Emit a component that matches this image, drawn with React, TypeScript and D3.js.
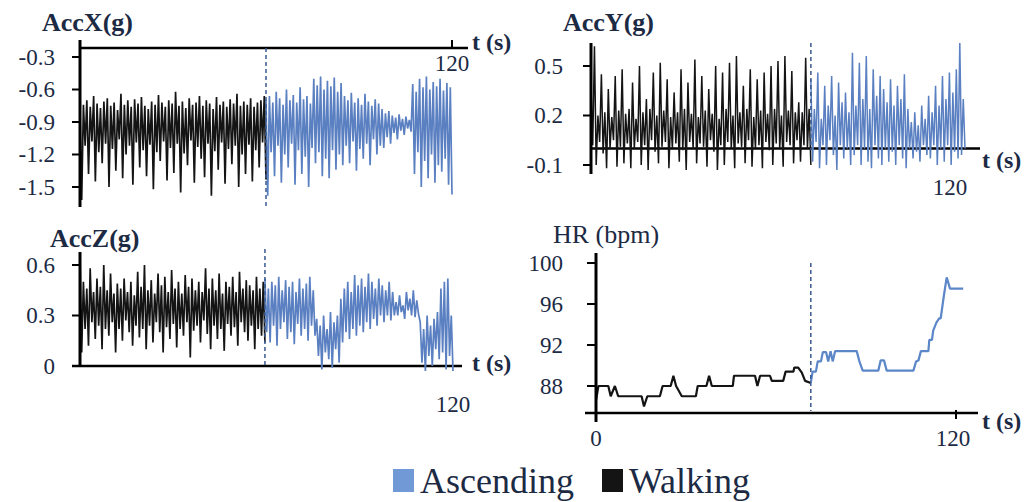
import * as d3 from "d3";

const WALK = "#141414";
const ASC = "#5b80c2";
const ASC_KEY = "#7199d6";
const TEXT = "#1c2a44";
const DASH = "#3a5a90";
const FONT = "'Liberation Serif', 'DejaVu Serif', serif";

// Acceleration samples are in hundredths of g.

// ---- AccX: walking 0-60 s, ascending 60-120 s
const accXTicks = [-0.3, -0.6, -0.9, -1.2, -1.5];
const accXWalk = [
  -78, -162, -74, -112, -70, -138, -76, -108, -66, -145, -73, -118, -77, -128, -71, -110, -68, -150, -75, -115,
  -72, -135, -79, -106, -64, -142, -74, -120, -70, -112, -76, -148, -69, -109, -73, -132, -67, -116, -75, -140,
  -78, -111, -71, -152, -74, -118, -65, -126, -72, -108, -76, -144, -70, -114, -73, -137, -62, -110, -75, -155,
  -71, -119, -77, -130, -68, -107, -74, -146, -72, -113, -66, -124, -75, -141, -70, -110, -73, -158, -78, -117,
  -67, -134, -74, -109, -71, -147, -76, -115, -69, -129, -73, -112, -64, -150, -75, -120, -71, -138, -74, -111,
  -68, -145, -76, -116, -72, -132, -70, -109, -66, -143,
];
const accXAsc = [
  -70, -158, -66, -118, -72, -140, -62, -112, -68, -146, -74, -120, -60, -132, -70, -110, -65, -148, -72, -116,
  -58, -138, -69, -122, -66, -150, -73, -114,
  -50, -128, -56, -118, -48, -140, -60, -124, -52, -142, -57, -116, -49, -134, -62, -120, -54, -130,
  -66, -112, -70, -128, -63, -108, -72, -135, -68, -115, -74, -124, -64, -110, -71, -130, -75, -106, -69, -120,
  -73, -112,
  -78, -114, -82, -104, -80, -110, -84, -100, -86, -106, -83, -98, -87, -102, -85, -96, -88, -99,
  -55, -138, -62, -118, -50, -150, -58, -126, -48, -142, -60, -120, -53, -146, -57, -130, -50, -136, -61, -124,
  -54, -148, -58, -157,
];

// ---- AccY: walking 0-72.9 s, ascending 72.9-124 s
const accYTicks = [0.5, 0.2, -0.1];
const accYWalk = [
  38, 2, 62, -10, 20, 4, 45, -3, 22, -12, 36, 0, 19, 5, 44, -11, 23, 1, 48, -9,
  21, 3, 24, -12, 40, 0, 18, 4, 50, -10, 22, 2, 30, -13, 24, 5, 46, -2, 20, -9,
  52, 1, 23, 4, 42, -12, 19, 0, 34, 3, 22, -8, 48, -1, 24, -13, 40, 4, 21, 0,
  54, -9, 19, 3, 44, 1, 23, -11, 36, 5, 21, -2, 50, -13, 18, 2, 46, -10, 24, 4,
  52, 0, 20, -12, 56, 3, 22, 1, 38, -9, 24, 5, 48, -11, 19, 0, 42, 2, 23, -12,
  46, 4, 21, -1, 50, -10, 24, 3, 53, 0, 20, -11, 56, 4, 23, 2, 47, -9, 22, 5,
  28, -8, 22, 2, 55, 0, 24, -10,
];
const accYAsc = [
  42, -8, 24, 4, 46, -12, 18, 2, 38, -10, 26, 5, 44, -4, 20, -13, 40, 2, 28, -6, 34, 0, 22, -10,
  58, -4, 26, 2, 52, -10, 30, 0, 56, -8, 24, -12, 48, 2, 32, -6, 44, -10,
  36, 0, 28, -8, 42, -2, 26, -10, 38, 2, 30, -6, 45, -12,
  24, 0, 16, -6, 22, -2, 14, -8, 26, 2, 18, -4,
  32, -6, 22, 2, 38, -10, 26, 0, 44, -8, 30, 2, 46, -10, 34, -2, 48, -6, 64, -4, 30, 0,
];

// ---- AccZ: walking 0-59.5 s, ascending 59.5-120 s
const accZTicks = [0.6, 0.3, 0];
const accZWalk = [
  65, 8, 50, 22, 46, 12, 58, 26, 44, 16, 52, 24, 47, 10, 60, 22, 45, 18, 55, 26,
  43, 8, 49, 22, 46, 15, 52, 27, 44, 20, 50, 12, 42, 24, 56, 17, 47, 22, 60, 10,
  45, 24, 51, 14, 43, 26, 55, 20, 48, 8, 53, 23, 44, 16, 57, 25, 46, 11, 50, 22,
  43, 18, 54, 26, 47, 5, 52, 21, 45, 24, 50, 14, 44, 27, 58, 19, 46, 10, 52, 24,
  45, 16, 55, 22, 43, 9, 50, 25, 47, 18, 53, 23, 44, 12, 56, 26, 46, 20, 51, 15,
  48, 24, 45, 10, 53, 22, 46, 18, 50, 14,
];
const accZAsc = [
  52, 20, 46, 14, 50, 24, 48, 12, 53, 22, 45, 26, 51, 16, 47, 20, 50, 13, 44, 25,
  52, 18, 46, 22, 49, 15, 53, 24, 45, 18,
  28, 6, 24, -2, 30, 8, 22, 4, 32, -1, 26, 10, 30, 2,
  40, 14, 46, 20, 50, 16, 44, 22, 54, 18, 48, 24, 52, 20, 47, 26, 55, 22, 50, 28,
  46, 24, 52, 30, 48, 26, 45, 30, 50, 27, 44, 30,
  38, 30, 42, 32, 36, 28, 44, 33, 40, 30, 45, 29, 39, 31,
  26, 2, 22, -3, 30, 6, 24, 0, 28, 10, 32, 4, 46, 8, 50, -2, 52, 6, 30, -3,
];

// ---- HR (bpm)
const hrTicks = [100, 96, 92, 88];
const hrWalkT = [0, 0.8, 4.1, 4.9, 6.3, 7.4, 15.2, 16, 17.1, 21.3, 22.2, 24.9, 25.8, 26.7, 28.6, 33.3, 33.9, 36.8, 37.7, 38.6, 45.6, 46, 53, 53.8, 54.7, 58, 58.6, 62.4, 63.2, 65.8, 66.1, 67.4, 68.6, 69.7, 71.6];
const hrWalkV = [86.6, 88, 88, 87, 88, 87, 87, 86, 87, 87, 88, 88, 89, 88, 87, 87, 88, 88, 89, 88, 88, 89, 89, 88, 89, 89, 88.5, 88.5, 89.4, 89.4, 89.8, 89.8, 89.3, 88.5, 88.3];
const hrAscT = [71.6, 72.2, 73.3, 73.9, 75, 75.6, 76.7, 77.4, 78.2, 78.9, 79.7, 86.9, 87.8, 88.9, 94.1, 94.9, 96, 96.9, 105.8, 106.7, 107.5, 108.3, 110.8, 111.1, 112, 112.4, 113.5, 114.4, 114.9, 116, 116.9, 118, 122.4];
const hrAscV = [88.3, 89.4, 89.4, 90.4, 90.4, 91.3, 91.3, 90.4, 91.4, 90.4, 91.4, 91.4, 90.4, 89.5, 89.5, 90.5, 90.5, 89.5, 89.5, 90.4, 90.5, 91.4, 91.4, 92.5, 92.5, 93.4, 94.2, 94.6, 94.6, 96.9, 98.6, 97.5, 97.5];

const legendItems = [
  { label: "Ascending", color: ASC_KEY },
  { label: "Walking", color: WALK },
];

type Pt = [number, number];

// spread a sample list (hundredths) evenly over [t0, t1]
function samples(vals: number[], t0: number, t1: number): Pt[] {
  const idx = d3.scaleLinear().domain([0, vals.length - 1]).range([t0, t1]);
  return vals.map((v, i) => [idx(i), v / 100]);
}
const pairs = (ts: number[], vs: number[]): Pt[] => ts.map((t, i) => [t, vs[i]]);

type Panel = {
  title: string;
  bold: boolean;
  titleX: number;
  titleY: number;
  ticks: number[];
  fmt: (v: number) => string;
  yDomain: [number, number];
  yRange: [number, number];
  tDomain: [number, number];
  xRange: [number, number];
  axisAt: number;
  yAxisPx: [number, number];
  xAxisPx: [number, number];
  tickLen: number;
  labelGap: number;
  t120: "up" | "down" | "none";
  lab120Y: number;
  lab120Dx: number;
  zeroLabel?: boolean;
  tsX: number;
  tsY: number;
  dashPx: [number, number];
  split: number;
  walk: Pt[];
  asc: Pt[];
  lineW: number;
  ascColor: string;
};

function PanelView({ p }: { p: Panel }) {
  const x = d3.scaleLinear().domain(p.tDomain).range(p.xRange);
  const y = d3.scaleLinear().domain(p.yDomain).range(p.yRange);
  const line = d3
    .line<Pt>()
    .x((d) => x(d[0]))
    .y((d) => y(d[1]));
  const x0 = x(0);
  const y0 = y(p.axisAt);
  const x120 = x(120);
  return (
    <g>
      <line x1={p.xAxisPx[0]} x2={p.xAxisPx[1]} y1={y0} y2={y0} stroke="#000" strokeWidth={2.5} />
      <path d={line(p.asc) ?? ""} fill="none" stroke={p.ascColor} strokeWidth={p.lineW} strokeLinejoin="bevel" />
      <path d={line(p.walk) ?? ""} fill="none" stroke={WALK} strokeWidth={p.lineW} strokeLinejoin="bevel" />
      <line
        x1={x(p.split)}
        x2={x(p.split)}
        y1={p.dashPx[0]}
        y2={p.dashPx[1]}
        stroke={DASH}
        strokeWidth={1.5}
        strokeDasharray="4,3"
      />
      <line x1={x0} x2={x0} y1={p.yAxisPx[0]} y2={p.yAxisPx[1]} stroke="#000" strokeWidth={3} />
      {p.ticks.map((v) => (
        <g key={v}>
          <line x1={x0 - p.tickLen} x2={x0} y1={y(v)} y2={y(v)} stroke="#000" strokeWidth={2} />
          <text
            x={x0 - p.labelGap}
            y={y(v)}
            dy="0.34em"
            textAnchor="end"
            fontSize={23}
            fill={TEXT}
            fontFamily={FONT}
          >
            {p.fmt(v)}
          </text>
        </g>
      ))}
      {p.t120 !== "none" && (
        <line
          x1={x120}
          x2={x120}
          y1={p.t120 === "up" ? y0 - 8 : y0 - 3}
          y2={p.t120 === "up" ? y0 : y0 + 6}
          stroke="#000"
          strokeWidth={2}
        />
      )}
      <text x={x120 + p.lab120Dx} y={p.lab120Y} textAnchor="middle" fontSize={23} fill={TEXT} fontFamily={FONT}>
        120
      </text>
      {p.zeroLabel && (
        <text x={x0} y={p.lab120Y} textAnchor="middle" fontSize={23} fill={TEXT} fontFamily={FONT}>
          0
        </text>
      )}
      <text x={p.tsX} y={p.tsY} fontSize={24} fontWeight="bold" fill={TEXT} fontFamily={FONT}>
        t (s)
      </text>
      <text
        x={p.titleX}
        y={p.titleY}
        fontSize={26}
        fontWeight={p.bold ? "bold" : "normal"}
        fill={TEXT}
        fontFamily={FONT}
      >
        {p.title}
      </text>
    </g>
  );
}

const fmt1 = (v: number) => (v === 0 ? "0" : v.toFixed(1));

export default function App() {
  const panels: Panel[] = [
    {
      title: "AccX(g)", bold: true, titleX: 42, titleY: 31,
      ticks: accXTicks, fmt: fmt1,
      yDomain: [-1.5, -0.3], yRange: [187, 57],
      tDomain: [0, 120], xRange: [80, 452],
      axisAt: -0.217, yAxisPx: [40, 207], xAxisPx: [80, 468],
      tickLen: 8, labelGap: 25, t120: "up", lab120Y: 71, lab120Dx: 0,
      tsX: 472, tsY: 50, dashPx: [48, 208], split: 60,
      walk: samples(accXWalk, 0, 60), asc: samples(accXAsc, 60, 120),
      lineW: 1.7, ascColor: ASC,
    },
    {
      title: "AccY(g)", bold: true, titleX: 563, titleY: 31,
      ticks: accYTicks, fmt: fmt1,
      yDomain: [-0.1, 0.5], yRange: [165, 66],
      tDomain: [0, 124], xRange: [591, 965],
      axisAt: 0, yAxisPx: [43, 174], xAxisPx: [591, 980],
      tickLen: 8, labelGap: 28, t120: "none", lab120Y: 195, lab120Dx: -3,
      tsX: 982, tsY: 168, dashPx: [43, 150], split: 72.9,
      walk: samples(accYWalk, 0, 72.9), asc: samples(accYAsc, 72.9, 124),
      lineW: 1.5, ascColor: ASC,
    },
    {
      title: "AccZ(g)", bold: true, titleX: 50, titleY: 247,
      ticks: accZTicks, fmt: fmt1,
      yDomain: [0, 0.6], yRange: [366, 265],
      tDomain: [0, 120], xRange: [80, 453],
      axisAt: 0, yAxisPx: [252, 366], xAxisPx: [72, 462],
      tickLen: 8, labelGap: 25, t120: "none", lab120Y: 412, lab120Dx: 0,
      tsX: 472, tsY: 371, dashPx: [249, 367], split: 59.5,
      walk: samples(accZWalk, 0, 59.5), asc: samples(accZAsc, 59.5, 120),
      lineW: 1.7, ascColor: ASC,
    },
    {
      title: "HR (bpm)", bold: false, titleX: 553, titleY: 243,
      ticks: hrTicks, fmt: (v) => String(v),
      yDomain: [88, 100], yRange: [386, 263],
      tDomain: [0, 120], xRange: [596, 956],
      axisAt: 85.37, yAxisPx: [253, 422], xAxisPx: [585, 978],
      tickLen: 9, labelGap: 33, t120: "down", lab120Y: 446, lab120Dx: -3, zeroLabel: true,
      tsX: 982, tsY: 429, dashPx: [263, 411], split: 71.6,
      walk: pairs(hrWalkT, hrWalkV), asc: pairs(hrAscT, hrAscV),
      lineW: 2.2, ascColor: "#5b86c8",
    },
  ];

  const keyX = [393, 602];
  return (
    <svg
      width={1029}
      height={502}
      style={{ position: "absolute", left: 0, top: 0, background: "#fff" }}
    >
      {panels.map((p) => (
        <PanelView key={p.title} p={p} />
      ))}
      {legendItems.map((item, i) => (
        <g key={item.label}>
          <rect x={keyX[i]} y={469} width={21} height={23} fill={item.color} />
          <text x={keyX[i] + 27} y={493} fontSize={36} fill={TEXT} fontFamily={FONT}>
            {item.label}
          </text>
        </g>
      ))}
    </svg>
  );
}
